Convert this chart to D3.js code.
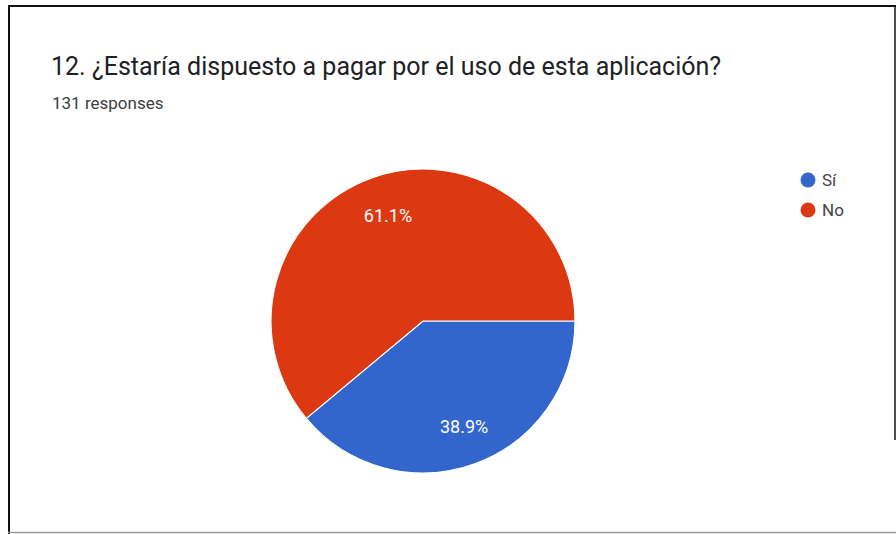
<!DOCTYPE html>
<html>
<head>
<meta charset="utf-8">
<script src="https://cdn.jsdelivr.net/npm/d3@7"></script>
<style>
  html, body { margin: 0; padding: 0; background: #fff; }
  svg { display: block; }
</style>
</head>
<body>
<svg id="chart" width="896" height="534"></svg>
<script>
// Survey answers and counts
const categories = ["Sí", "No"];
const counts = [51, 80];
const percentLabels = ["38.9%", "61.1%"];
const colors = ["#3366cc", "#dc3912"];
const titleText = "12. ¿Estaría dispuesto a pagar por el uso de esta aplicación?";
const subtitleText = "131 responses";

const svg = d3.select("#chart");
const W = 896, H = 534;
const font = "Roboto, 'Noto Sans', Arial, sans-serif";

// Frame
svg.append("rect").attr("x", 0).attr("y", 0).attr("width", W).attr("height", H).attr("fill", "#fff");
svg.append("line").attr("x1", 8).attr("x2", W).attr("y1", 6).attr("y2", 6)
  .attr("stroke", "#111").attr("stroke-width", 2);
svg.append("line").attr("x1", 9).attr("x2", 9).attr("y1", 5).attr("y2", H)
  .attr("stroke", "#111").attr("stroke-width", 2);
svg.append("line").attr("x1", 895).attr("x2", 895).attr("y1", 5).attr("y2", 440)
  .attr("stroke", "#111").attr("stroke-width", 1.5);
svg.append("line").attr("x1", 8).attr("x2", W).attr("y1", 532.5).attr("y2", 532.5)
  .attr("stroke", "#9a9a9a").attr("stroke-width", 1.5);

// Header
svg.append("text").attr("x", 51).attr("y", 75)
  .attr("font-family", font).attr("font-size", 25).attr("fill", "#202124")
  .text(titleText);
svg.append("text").attr("x", 52).attr("y", 109)
  .attr("font-family", font).attr("font-size", 17).attr("fill", "#3c4043")
  .text(subtitleText);

// Pie
const cx = 423, cy = 321, r = 152;
const pie = d3.pie().sort(null).value(d => d)
  .startAngle(Math.PI / 2).endAngle(Math.PI / 2 + 2 * Math.PI);
const arcs = pie(counts);
const arc = d3.arc().innerRadius(0).outerRadius(r);
const labelArc = d3.arc().innerRadius(r * 0.735).outerRadius(r * 0.735);

const g = svg.append("g").attr("transform", `translate(${cx},${cy})`);
g.selectAll("path.slice").data(arcs).join("path")
  .attr("class", "slice")
  .attr("d", arc)
  .attr("fill", (d, i) => colors[i])
  .attr("stroke", "#fff").attr("stroke-width", 1.2);

g.selectAll("text.pct").data(arcs).join("text")
  .attr("class", "pct")
  .attr("transform", d => { const [x, y] = labelArc.centroid(d); return `translate(${x + 3},${y})`; })
  .attr("text-anchor", "middle").attr("dominant-baseline", "central")
  .attr("font-family", font).attr("font-size", 18).attr("fill", "#fff")
  .text((d, i) => percentLabels[i]);

// Legend
const legend = svg.append("g").attr("transform", "translate(808,180)");
const items = legend.selectAll("g").data(categories).join("g")
  .attr("transform", (d, i) => `translate(0,${i * 30})`);
items.append("circle").attr("r", 7.5).attr("fill", (d, i) => colors[i]);
items.append("text").attr("x", 14).attr("dominant-baseline", "central")
  .attr("font-family", font).attr("font-size", 17).attr("fill", "#444")
  .text(d => d);
</script>
</body>
</html>
